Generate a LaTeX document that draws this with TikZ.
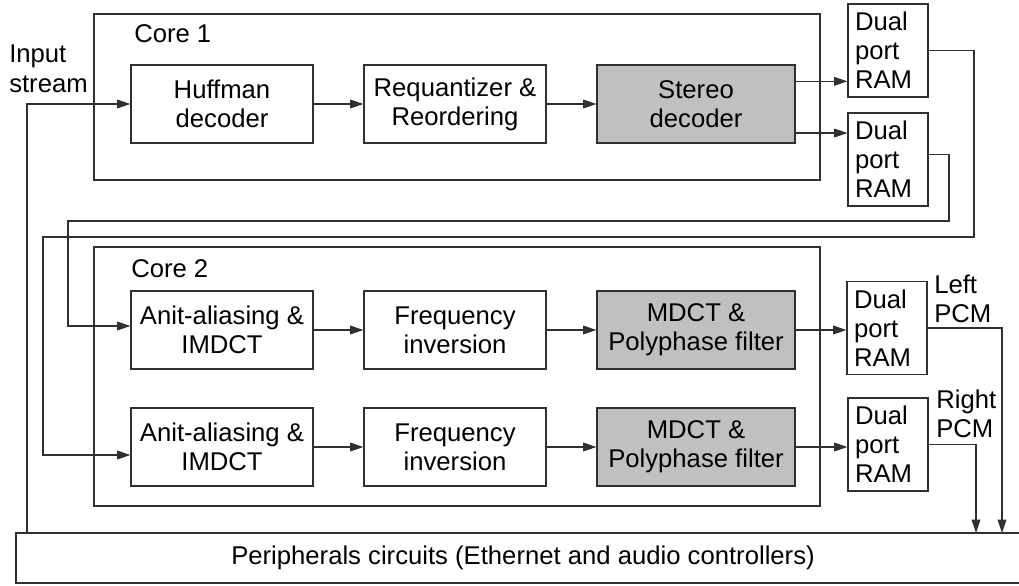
\documentclass[tikz,border=0pt]{standalone}
\usepackage{fontspec}
\setmainfont{Liberation Sans}
\usetikzlibrary{arrows.meta,calc}
\definecolor{ln}{HTML}{303030}
\definecolor{gf}{HTML}{C0C0C0}
\begin{document}
\begin{tikzpicture}[x=0.75pt,y=-0.75pt,
  every node/.style={font=\fontsize{19.25}{21.75}\selectfont, text=black},
  blk/.style={draw=ln, line width=0.8pt, inner sep=0pt, align=center, minimum height=58.5pt, minimum width=136.5pt},
  wide/.style={minimum width=148.5pt, fill=gf},
  core/.style={draw=ln, line width=0.8pt, inner sep=0pt, minimum width=544.5pt},
  ram/.style={draw=ln, line width=0.8pt, inner xsep=5.25pt, inner ysep=0pt, text width=49.5pt, align=left, minimum width=60pt, minimum height=69.75pt},
  lbl/.style={inner sep=0pt, anchor=base west, align=left},
  per/.style={draw=ln, line width=0.8pt, inner sep=0pt, minimum width=760.5pt, minimum height=37.5pt},
  ln/.style={draw=ln, line width=0.8pt},
  arr/.style={draw=ln, line width=0.8pt, -{Triangle[length=10pt,width=6.5pt]}}
]
\fill[white] (0,0) rectangle (1019,585);
\useasboundingbox (0,0) rectangle (1019,585);

% Core 1
\node[core, minimum height=124.5pt] (c1) at (457,97) {};
\node[lbl] (c1l) at (134,43) {Core 1};
\node[blk] (hf) at (222,104) {Huffman\\decoder};
\node[blk] (rq) at (455,104) {Requantizer \&\\Reordering};
\node[blk, wide] (sd) at (696,104) {Stereo\\decoder};
\node[ram] (r1) at (888,50.5) {Dual\\port\\RAM};
\node[ram] (r2) at (888,159.5) {Dual\\port\\RAM};

% Core 2
\node[core, minimum height=194.25pt] (c2) at (457,376.5) {};
\node[lbl] (c2l) at (131,277) {Core 2};
\node[blk] (a1) at (222,330) {Anit-aliasing \&\\IMDCT};
\node[blk] (f1) at (455,330) {Frequency\\inversion};
\node[blk, wide] (m1) at (696,330) {MDCT \&\\Polyphase filter};
\node[blk] (a2) at (222,447) {Anit-aliasing \&\\IMDCT};
\node[blk] (f2) at (455,447) {Frequency\\inversion};
\node[blk, wide] (m2) at (696,447) {MDCT \&\\Polyphase filter};
\node[ram] (r3) at (887,328) {Dual\\port\\RAM};
\node[ram] (r4) at (888,444.5) {Dual\\port\\RAM};

% Peripherals
\node[per] (per) at (523,558) {Peripherals circuits (Ethernet and audio controllers)};

% Labels (base = last line baseline)
\node[lbl] (ins) at (9,92) {Input\\stream};
\node[lbl] (lpcm) at (934,322) {Left\\PCM};
\node[lbl] (rpcm) at (936,437) {Right\\PCM};

% Connectors core 1
\draw[arr] (hf) -- (rq);
\draw[arr] (rq) -- (sd);
\coordinate (s1) at ([yshift=17pt]sd.east);
\coordinate (s2) at ([yshift=-21.75pt]sd.east);
\draw[arr] (s1) -- (s1 -| r1.west);
\draw[arr] (s2) -- (s2 -| r2.west);

% Feedback routes
\coordinate (p1) at (974,237);
\coordinate (p2) at (43,455);
\draw[arr] (r1.east) -| (p1) -| (p2) -- (p2 -| a2.west);
\coordinate (r2o) at ([yshift=4pt]r2.east);
\coordinate (q1) at (949,221);
\coordinate (q2) at (68,326);
\draw[arr] (r2o) -| (q1) -| (q2) -- (q2 -| a1.west);

% Connectors core 2
\draw[arr] (a1) -- (f1);
\draw[arr] (f1) -- (m1);
\draw[arr] (a2) -- (f2);
\draw[arr] (f2) -- (m2);
\draw[arr] (m1.east) -- (m1.east -| r3.west);
\draw[arr] (m2.east) -- (m2.east -| r4.west);

% Outputs
\coordinate (lp) at (1002,533);
\coordinate (rp) at (976,533);
\draw[arr] (r3.east) -| (lp);
\draw[arr] (r4.east) -| (rp);

% Input stream
\coordinate (in0) at (27,533);
\draw[arr] (in0) |- (hf.west);
\end{tikzpicture}
\end{document}
